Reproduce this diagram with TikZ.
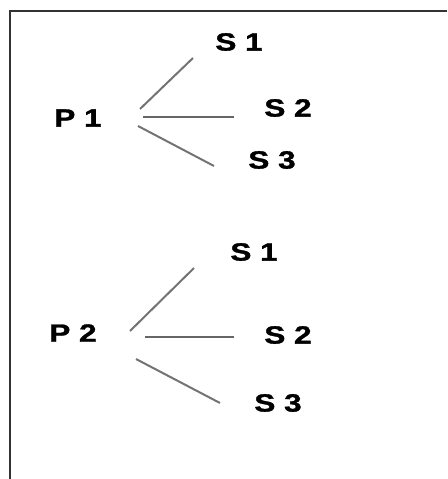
\documentclass[tikz,border=0pt]{standalone}
\usepackage{fontspec}
\setmainfont{Liberation Sans}
\newfontfamily\lblfont{Liberation Sans Bold}[FakeBold=1.2]
\begin{document}
\begin{tikzpicture}[x=1pt,y=-1pt,
  lbl/.style={inner sep=0pt,font=\fontsize{25}{30}\lblfont},
  br/.style={draw=black!55,line width=2pt},
  br2/.style={draw=black!60,line width=2.8pt},
  frame/.style={draw=black!80,line width=2pt}]
\useasboundingbox (0,0) rectangle (447,479);
\coordinate (ftr) at (447,11);
\coordinate (ftl) at (10,11);
\coordinate (fbl) at (10,479);
\draw[frame] (ftr) -- (ftl) -- (fbl);
% group 1
\node[lbl] (p1) at (78,118) {\scalebox{1.26}[1]{P 1}};
\node[lbl] (a1) at (239,42) {\scalebox{1.26}[1]{S 1}};
\node[lbl] (a2) at (288,108) {\scalebox{1.26}[1]{S 2}};
\node[lbl] (a3) at (272,160) {\scalebox{1.26}[1]{S 3}};
\coordinate (p1a) at (140,109); \coordinate (a1e) at (193,58);
\coordinate (p1b) at (143,117); \coordinate (a2e) at (234,117);
\coordinate (p1c) at (138,126); \coordinate (a3e) at (214,166);
\draw[br] (p1a) -- (a1e);
\draw[br2] (p1b) -- (a2e);
\draw[br] (p1c) -- (a3e);
% group 2
\node[lbl] (p2) at (73,333) {\scalebox{1.26}[1]{P 2}};
\node[lbl] (b1) at (254,252) {\scalebox{1.26}[1]{S 1}};
\node[lbl] (b2) at (288,335) {\scalebox{1.26}[1]{S 2}};
\node[lbl] (b3) at (278,403) {\scalebox{1.26}[1]{S 3}};
\coordinate (p2a) at (130,331); \coordinate (b1e) at (194,268);
\coordinate (p2b) at (145,337); \coordinate (b2e) at (234,337);
\coordinate (p2c) at (136,359); \coordinate (b3e) at (220,403);
\draw[br] (p2a) -- (b1e);
\draw[br2] (p2b) -- (b2e);
\draw[br] (p2c) -- (b3e);
\end{tikzpicture}
\end{document}
